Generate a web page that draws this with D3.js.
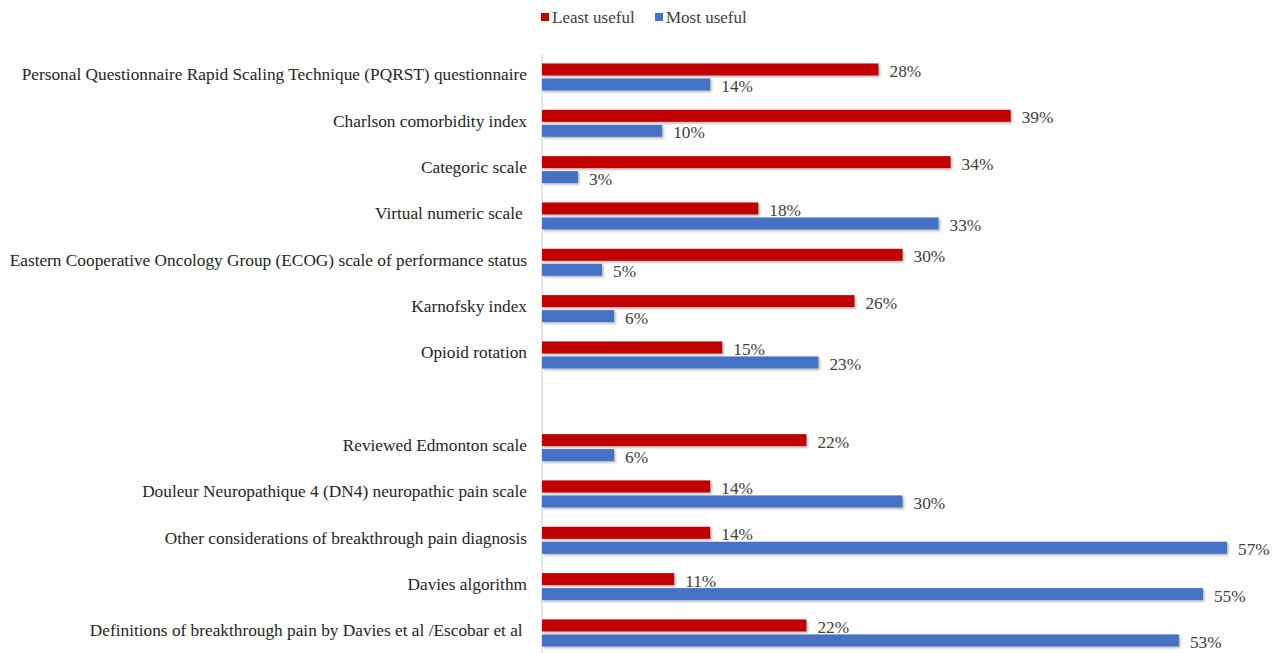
<!DOCTYPE html>
<html><head><meta charset="utf-8">
<script src="https://cdn.jsdelivr.net/npm/d3@7"></script>
<style>
html,body{margin:0;padding:0;background:#fff;}
svg text{font-family:"Liberation Serif","Times New Roman",serif;}
</style></head>
<body>
<svg id="chart" width="1281" height="653"></svg>
<script>
const categories = [
  "Personal Questionnaire Rapid Scaling Technique (PQRST) questionnaire",
  "Charlson comorbidity index",
  "Categoric scale",
  "Virtual numeric scale ",
  "Eastern Cooperative Oncology Group (ECOG) scale of performance status",
  "Karnofsky index",
  "Opioid rotation",
  "",
  "Reviewed Edmonton scale",
  "Douleur Neuropathique 4 (DN4) neuropathic pain scale",
  "Other considerations of breakthrough pain diagnosis",
  "Davies algorithm",
  "Definitions of breakthrough pain by Davies et al /Escobar et al "
];
const leastUseful = [28, 39, 34, 18, 30, 26, 15, null, 22, 14, 14, 11, 22];
const mostUseful  = [14, 10, 3, 33, 5, 6, 23, null, 6, 30, 57, 55, 53];
const seriesNames = ["Least useful", "Most useful"];
const seriesColors = ["#C00000", "#4472C4"];

const svg = d3.select("#chart");
const defs = svg.append("defs");
const f = defs.append("filter").attr("id","sh").attr("x","-5%").attr("y","-50%").attr("width","110%").attr("height","220%");
f.append("feDropShadow").attr("dx",1.5).attr("dy",1.5).attr("stdDeviation",1.2).attr("flood-color","#000").attr("flood-opacity",0.3);

const keys = categories.map((c,i)=> "k"+i);
const x = d3.scaleLinear().domain([0, 57]).range([542, 1227]);
const y = d3.scaleBand().domain(keys).range([53.8, 656.1]).paddingInner(0).paddingOuter(0);
const barH = 12, gap = 3;

// axis line
svg.append("line").attr("x1",x(0)).attr("x2",x(0)).attr("y1",54).attr("y2",653)
  .attr("stroke","#d9d9d9").attr("stroke-width",1.3);

// category labels
svg.append("g").selectAll("text").data(categories).join("text")
  .attr("x", 527).attr("y",(d,i)=> y(keys[i]) + y.bandwidth()/2 - 2)
  .attr("text-anchor","end").attr("dominant-baseline","central")
  .attr("font-size",17.3).attr("fill","#262626")
  .style("white-space","pre")
  .text(d=>d);

const series = [leastUseful, mostUseful];
series.forEach((vals, si) => {
  const g = svg.append("g");
  const data = vals.map((v,i)=>({v, k:keys[i]})).filter(d=>d.v!==null);
  const yOff = d => y(d.k) + y.bandwidth()/2 + (si===0 ? -(barH + gap/2) : gap/2);
  g.selectAll("rect").data(data).join("rect")
    .attr("x", x(0)).attr("y", yOff)
    .attr("width", d=> x(d.v)-x(0)).attr("height", barH)
    .attr("fill", seriesColors[si]).attr("filter","url(#sh)");
  g.selectAll("text").data(data).join("text")
    .attr("x", d=> x(d.v) + 11).attr("y", d=> yOff(d) + barH/2 + 2)
    .attr("dominant-baseline","central")
    .attr("font-size",17.3).attr("fill","#404040")
    .text(d=> d.v + "%");
});

// legend
const lg = svg.append("g");
const legX = [541, 655];
seriesNames.forEach((n,i)=>{
  lg.append("rect").attr("x",legX[i]).attr("y",13).attr("width",8).attr("height",8).attr("fill",seriesColors[i]);
  lg.append("text").attr("x",legX[i]+11).attr("y",17).attr("dominant-baseline","central")
    .attr("font-size",17).attr("fill","#404040").text(n);
});
</script>
</body></html>
